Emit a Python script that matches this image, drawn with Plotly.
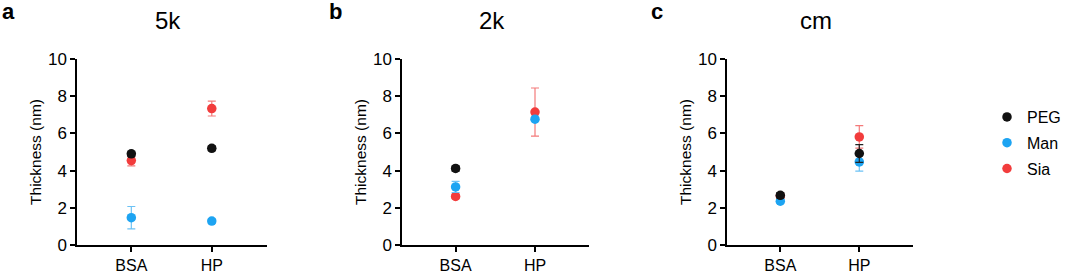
import plotly.graph_objects as go

# ---- data ----
categories = ["BSA", "HP"]
panel_titles = ["5k", "2k", "cm"]
panel_letters = ["a", "b", "c"]
series_names = ["PEG", "Man", "Sia"]

peg_5k = [4.90, 5.20]
peg_5k_err = [0.14, 0.13]
man_5k = [1.48, 1.30]
man_5k_err = [0.60, 0.12]
sia_5k = [4.54, 7.33]
sia_5k_err = [0.28, 0.40]

peg_2k = [4.12, None]
peg_2k_err = [0.14, 0.0]
man_2k = [3.13, 6.76]
man_2k_err = [0.30, 0.10]
sia_2k = [2.62, 7.14]
sia_2k_err = [0.12, 1.29]

peg_cm = [2.68, 4.92]
peg_cm_err = [0.14, 0.48]
man_cm = [2.36, 4.47]
man_cm_err = [0.10, 0.50]
sia_cm = [2.64, 5.81]
sia_cm_err = [0.10, 0.60]

y_ticks = [0, 2, 4, 6, 8, 10]

# ---- styling ----
FONT = "Liberation Sans, Arial, sans-serif"
colors = {"PEG": "#111111", "Man": "#1da4f2", "Sia": "#f23c3c"}
err_colors = {"PEG": "#222222", "Man": "#6cc2f5", "Sia": "#f47a7a"}
W, H = 1065, 274

panels = [
    {"PEG": (peg_5k, peg_5k_err), "Man": (man_5k, man_5k_err), "Sia": (sia_5k, sia_5k_err)},
    {"PEG": (peg_2k, peg_2k_err), "Man": (man_2k, man_2k_err), "Sia": (sia_2k, sia_2k_err)},
    {"PEG": (peg_cm, peg_cm_err), "Man": (man_cm, man_cm_err), "Sia": (sia_cm, sia_cm_err)},
]

# axis pixel extents (left, right)
x_px = [(77, 266.5), (402, 589), (727, 913)]
letter_px = [0, 327, 649]
y_top_px, y_bot_px = 58.7, 245.3

fig = go.Figure()
draw_order = ["Sia", "Man", "PEG"]
rank = {"PEG": 1, "Man": 2, "Sia": 3}
xpos = list(range(len(categories)))

layout = {}
annotations = []
for i, pdata in enumerate(panels):
    xa = "x" if i == 0 else f"x{i+1}"
    ya = "y" if i == 0 else f"y{i+1}"
    for name in draw_order:
        vals, errs = pdata[name]
        fig.add_trace(go.Scatter(
            x=xpos, y=vals, mode="markers",
            name=name, legendgroup=name, legendrank=rank[name],
            showlegend=(i == 0),
            marker=dict(color=colors[name], size=9.5, symbol="circle"),
            error_y=dict(type="data", array=errs, visible=True,
                         color=err_colors[name], thickness=1.2, width=4),
            xaxis=xa, yaxis=ya,
        ))
    l, r = x_px[i]
    xkey = "xaxis" if i == 0 else f"xaxis{i+1}"
    ykey = "yaxis" if i == 0 else f"yaxis{i+1}"
    layout[xkey] = dict(
        domain=[l / W, r / W], range=[-0.675, 1.68], anchor=ya,
        tickvals=xpos, ticktext=categories, ticks="outside", ticklen=5,
        tickwidth=1.5, tickcolor="black", showline=True, linecolor="black",
        linewidth=1.5, showgrid=False, zeroline=False, automargin=False,
        tickfont=dict(family=FONT, size=16, color="black"),
    )
    layout[ykey] = dict(
        domain=[(H - y_bot_px) / H, (H - y_top_px) / H], range=[0, 10],
        anchor=xa, tickvals=y_ticks, ticks="outside", ticklen=5,
        tickwidth=1.5, tickcolor="black", showline=True, linecolor="black",
        linewidth=1.5, showgrid=False, zeroline=False, automargin=False,
        tickfont=dict(family=FONT, size=17, color="black"),
        title=dict(text="Thickness (nm)", standoff=3,
                   font=dict(family=FONT, size=15.5, color="black")),
    )
    annotations.append(dict(
        text=panel_titles[i], xref="paper", yref="paper",
        x=((l + r) / 2 - 4) / W, y=(H - 20) / H, xanchor="center", yanchor="middle",
        showarrow=False, font=dict(family=FONT, size=24, color="black"),
    ))
    annotations.append(dict(
        text=f"<b>{panel_letters[i]}</b>", xref="paper", yref="paper",
        x=letter_px[i] / W, y=(H - 12) / H,
        xanchor="left", yanchor="middle",
        showarrow=False, font=dict(family=FONT, size=22, color="black"),
    ))

fig.update_layout(
    **layout,
    annotations=annotations,
    width=W, height=H,
    margin=dict(l=0, r=0, t=0, b=0, autoexpand=False),
    paper_bgcolor="white", plot_bgcolor="white",
    showlegend=True,
    legend=dict(x=987 / W, y=(H - 100) / H, xanchor="left", yanchor="top",
                font=dict(family=FONT, size=16, color="black"),
                tracegroupgap=2, bgcolor="rgba(0,0,0,0)"),
)

fig.write_html("out.html", config={"displayModeBar": False},
               post_script="document.body.style.margin='0';document.body.style.overflow='hidden';")
